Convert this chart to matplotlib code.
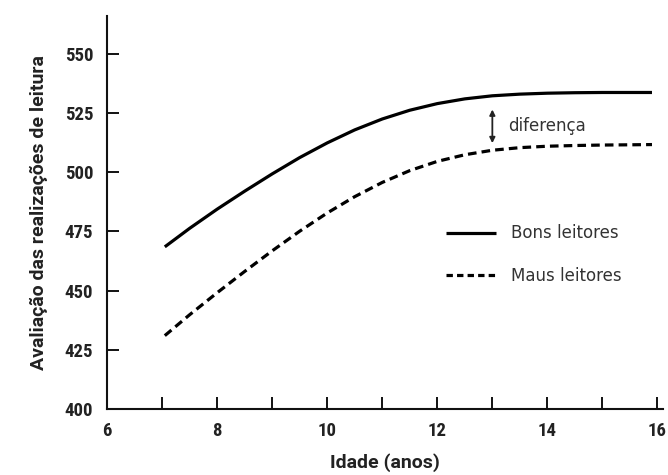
import matplotlib
matplotlib.use("Agg")
import matplotlib.pyplot as plt
from matplotlib.ticker import FixedLocator
from matplotlib.lines import Line2D

# ---- data ----
ages = [7.05, 7.5, 8, 8.5, 9, 9.5, 10, 10.5, 11, 11.5, 12, 12.5, 13, 13.5, 14, 14.5, 15, 15.5, 15.9]
bons = [468.5, 476.3, 484.4, 492.0, 499.3, 506.2, 512.4, 517.9, 522.5, 526.2, 529.0, 531.0, 532.3,
        533.0, 533.4, 533.6, 533.7, 533.7, 533.7]
maus = [431.0, 439.8, 449.1, 458.1, 466.8, 475.1, 482.8, 489.7, 495.7, 500.7, 504.6, 507.4, 509.3,
        510.4, 511.0, 511.3, 511.5, 511.6, 511.7]
series_labels = ["Bons leitores", "Maus leitores"]
x_ticks = [6, 8, 10, 12, 14, 16]
x_minor = [7, 9, 11, 13, 15]
y_ticks = [400, 425, 450, 475, 500, 525, 550]
x_label = "Idade (anos)"
y_label = "Avaliação das realizações de leitura"
diff_label = "diferença"
diff_age = 13
diff_top, diff_bottom = 526.5, 512.3

cond = ['Roboto Condensed', 'DejaVu Sans']
labfont = ['Roboto', 'DejaVu Sans']

fig = plt.figure(figsize=(6.68, 4.75), dpi=100)
ax = fig.add_axes([0.1602, 0.1389, 0.8323, 0.8274])

ax.plot(ages, bons, color='black', lw=2.3, solid_capstyle='butt')
ax.plot(ages, maus, color='black', lw=2.3, dashes=(2.7, 1.6), dash_capstyle='butt')

ax.set_xlim(6, 16.1)
ax.set_ylim(400, 566)

for s in ['top', 'right']:
    ax.spines[s].set_visible(False)
for s in ['left', 'bottom']:
    ax.spines[s].set_linewidth(1.5)
    ax.spines[s].set_color('#111111')

ax.xaxis.set_major_locator(FixedLocator(x_ticks))
ax.xaxis.set_minor_locator(FixedLocator(x_minor))
ax.yaxis.set_major_locator(FixedLocator(y_ticks))
ax.tick_params(axis='both', which='both', direction='in', length=8.5, width=1.4, color='#111111')
ax.tick_params(axis='y', pad=10)
ax.tick_params(axis='x', pad=9)

for lab in ax.get_xticklabels() + ax.get_yticklabels():
    lab.set_family(cond)
    lab.set_fontweight('bold')
    lab.set_fontsize(13.5)
    lab.set_color('#222222')

ax.set_xlabel(x_label, family=labfont, fontweight='bold', fontsize=14, color='#222222', labelpad=10)
ax.set_ylabel(y_label, family=labfont, fontweight='bold', fontsize=14, color='#222222', labelpad=12)

# difference arrow
ax.annotate('', xy=(diff_age, diff_top), xytext=(diff_age, diff_bottom),
            arrowprops=dict(arrowstyle='<|-|>', color='#222222', lw=1.3,
                            mutation_scale=8, shrinkA=0, shrinkB=0))
ax.text(diff_age + 0.28, (diff_top + diff_bottom) / 2, diff_label, fontsize=12,
        color='#333333', va='center', ha='left')

handles = [Line2D([], [], color='black', lw=2.3, solid_capstyle='butt'),
           Line2D([], [], color='black', lw=2.3, dashes=(2.0, 1.3), dash_capstyle='butt')]
leg = ax.legend(handles, series_labels, loc='upper left', bbox_to_anchor=(12.15, 478),
                bbox_transform=ax.transData, frameon=False, fontsize=12, handlelength=3.0,
                handletextpad=0.9, labelspacing=1.45, borderpad=0, borderaxespad=0)
for t in leg.get_texts():
    t.set_color('#333333')

fig.savefig('out.png', dpi=100)
